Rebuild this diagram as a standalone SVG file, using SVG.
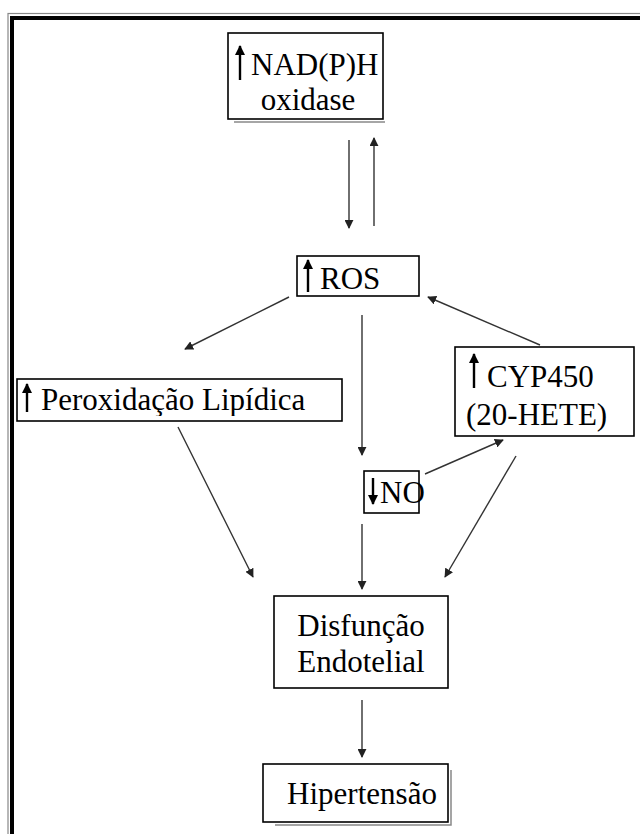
<svg xmlns="http://www.w3.org/2000/svg" width="640" height="834" viewBox="0 0 640 834">
<defs>
<style>
.box{fill:#fff;stroke:#000;stroke-width:1.6}
.sh{fill:none;stroke:#888;stroke-width:1.5}
.t{font-size:31px;fill:#000}
.c{fill:none;stroke:#333;stroke-width:1.4}
.up{stroke:#000;stroke-width:2.4}
</style>
<marker id="ah" viewBox="0 0 10 10" refX="9" refY="5" markerWidth="9" markerHeight="9" markerUnits="userSpaceOnUse" orient="auto">
<path d="M0,0 L10,5 L0,10 Z" fill="#222"/>
</marker>
<marker id="bh" viewBox="0 0 10 10" refX="9" refY="5" markerWidth="10" markerHeight="10" markerUnits="userSpaceOnUse" orient="auto">
<path d="M0,0 L10,5 L0,10 Z" fill="#000"/>
</marker>
<clipPath id="cNad"><rect x="200" y="33" width="220" height="78"/></clipPath>
<clipPath id="cPer"><rect x="17" y="379" width="325" height="37"/></clipPath>
<clipPath id="cCyp"><rect x="455" y="347" width="179" height="85"/></clipPath>
<clipPath id="cDis"><rect x="274" y="596" width="174" height="83"/></clipPath>
</defs>
<rect width="640" height="834" fill="#fff"/>
<g id="frame">
<rect x="8" y="13.5" width="700" height="900" fill="none" stroke="#888" stroke-width="1.2"/>
<rect x="12" y="18" width="700" height="900" fill="none" stroke="#000" stroke-width="4"/>
</g>
<g id="connectors">
<line class="c" x1="349" y1="140" x2="349" y2="228" marker-end="url(#ah)"/>
<line class="c" x1="374" y1="226" x2="374" y2="138" marker-end="url(#ah)"/>
<line class="c" x1="289" y1="297" x2="185" y2="349" marker-end="url(#ah)"/>
<line class="c" x1="362" y1="315" x2="362" y2="455" marker-end="url(#ah)"/>
<line class="c" x1="540" y1="345" x2="428" y2="297" marker-end="url(#ah)"/>
<line class="c" x1="425" y1="474" x2="503" y2="440" marker-end="url(#ah)"/>
<line class="c" x1="178" y1="427" x2="253" y2="577" marker-end="url(#ah)"/>
<line class="c" x1="362" y1="524" x2="362" y2="589" marker-end="url(#ah)"/>
<line class="c" x1="516" y1="456" x2="445" y2="577" marker-end="url(#ah)"/>
<line class="c" x1="362" y1="700" x2="362" y2="757" marker-end="url(#ah)"/>
</g>
<g font-family="'Liberation Serif', 'Times New Roman', 'DejaVu Serif', serif">
<g id="nadph">
<polyline class="sh" points="234,122 385,122"/>
<rect class="box" x="228" y="33" width="155" height="86"/>
<line class="up" x1="240" y1="80" x2="240" y2="46" marker-end="url(#bh)"/>
<g clip-path="url(#cNad)">
<text class="t" x="251" y="75" font-size="27.5">NAD(P)H</text>
<text class="t" x="308" y="110" font-size="27.5" text-anchor="middle">oxidase</text>
</g>
</g>
<g id="ros">
<rect class="box" x="297" y="256" width="122" height="40"/>
<line class="up" x1="308" y1="292" x2="308" y2="260" marker-end="url(#bh)"/>
<text class="t" x="320" y="289" font-size="28">ROS</text>
</g>
<g id="peroxidacao">
<rect class="box" x="17" y="379" width="325" height="42"/>
<line class="up" x1="27" y1="412" x2="27" y2="384" marker-end="url(#bh)"/>
<g clip-path="url(#cPer)">
<text class="t" x="41" y="410" font-size="34.5">Peroxidação Lipídica</text>
</g>
</g>
<g id="cyp450">
<rect class="box" x="455" y="347" width="179" height="89"/>
<line class="up" x1="474" y1="388" x2="474" y2="354" marker-end="url(#bh)"/>
<g clip-path="url(#cCyp)">
<text class="t" x="487" y="387" font-size="30.5">CYP450</text>
<text class="t" x="466" y="425" font-size="30.5">(20-HETE)</text>
</g>
</g>
<g id="no">
<rect class="box" x="364" y="471" width="55" height="42"/>
<line class="up" x1="373" y1="478" x2="373" y2="504" marker-end="url(#bh)"/>
<text class="t" x="380" y="503" font-size="27">NO</text>
</g>
<g id="disfuncao">
<rect class="box" x="274" y="596" width="174" height="92"/>
<g clip-path="url(#cDis)">
<text class="t" x="361" y="636" text-anchor="middle">Disfunção</text>
<text class="t" x="361" y="672" text-anchor="middle">Endotelial</text>
</g>
</g>
<g id="hipertensao">
<polyline class="sh" points="275,825 451,825 451,770"/>
<rect class="box" x="263" y="764" width="185" height="58"/>
<text class="t" x="362" y="804" text-anchor="middle">Hipertensão</text>
</g>
</g>
</svg>
